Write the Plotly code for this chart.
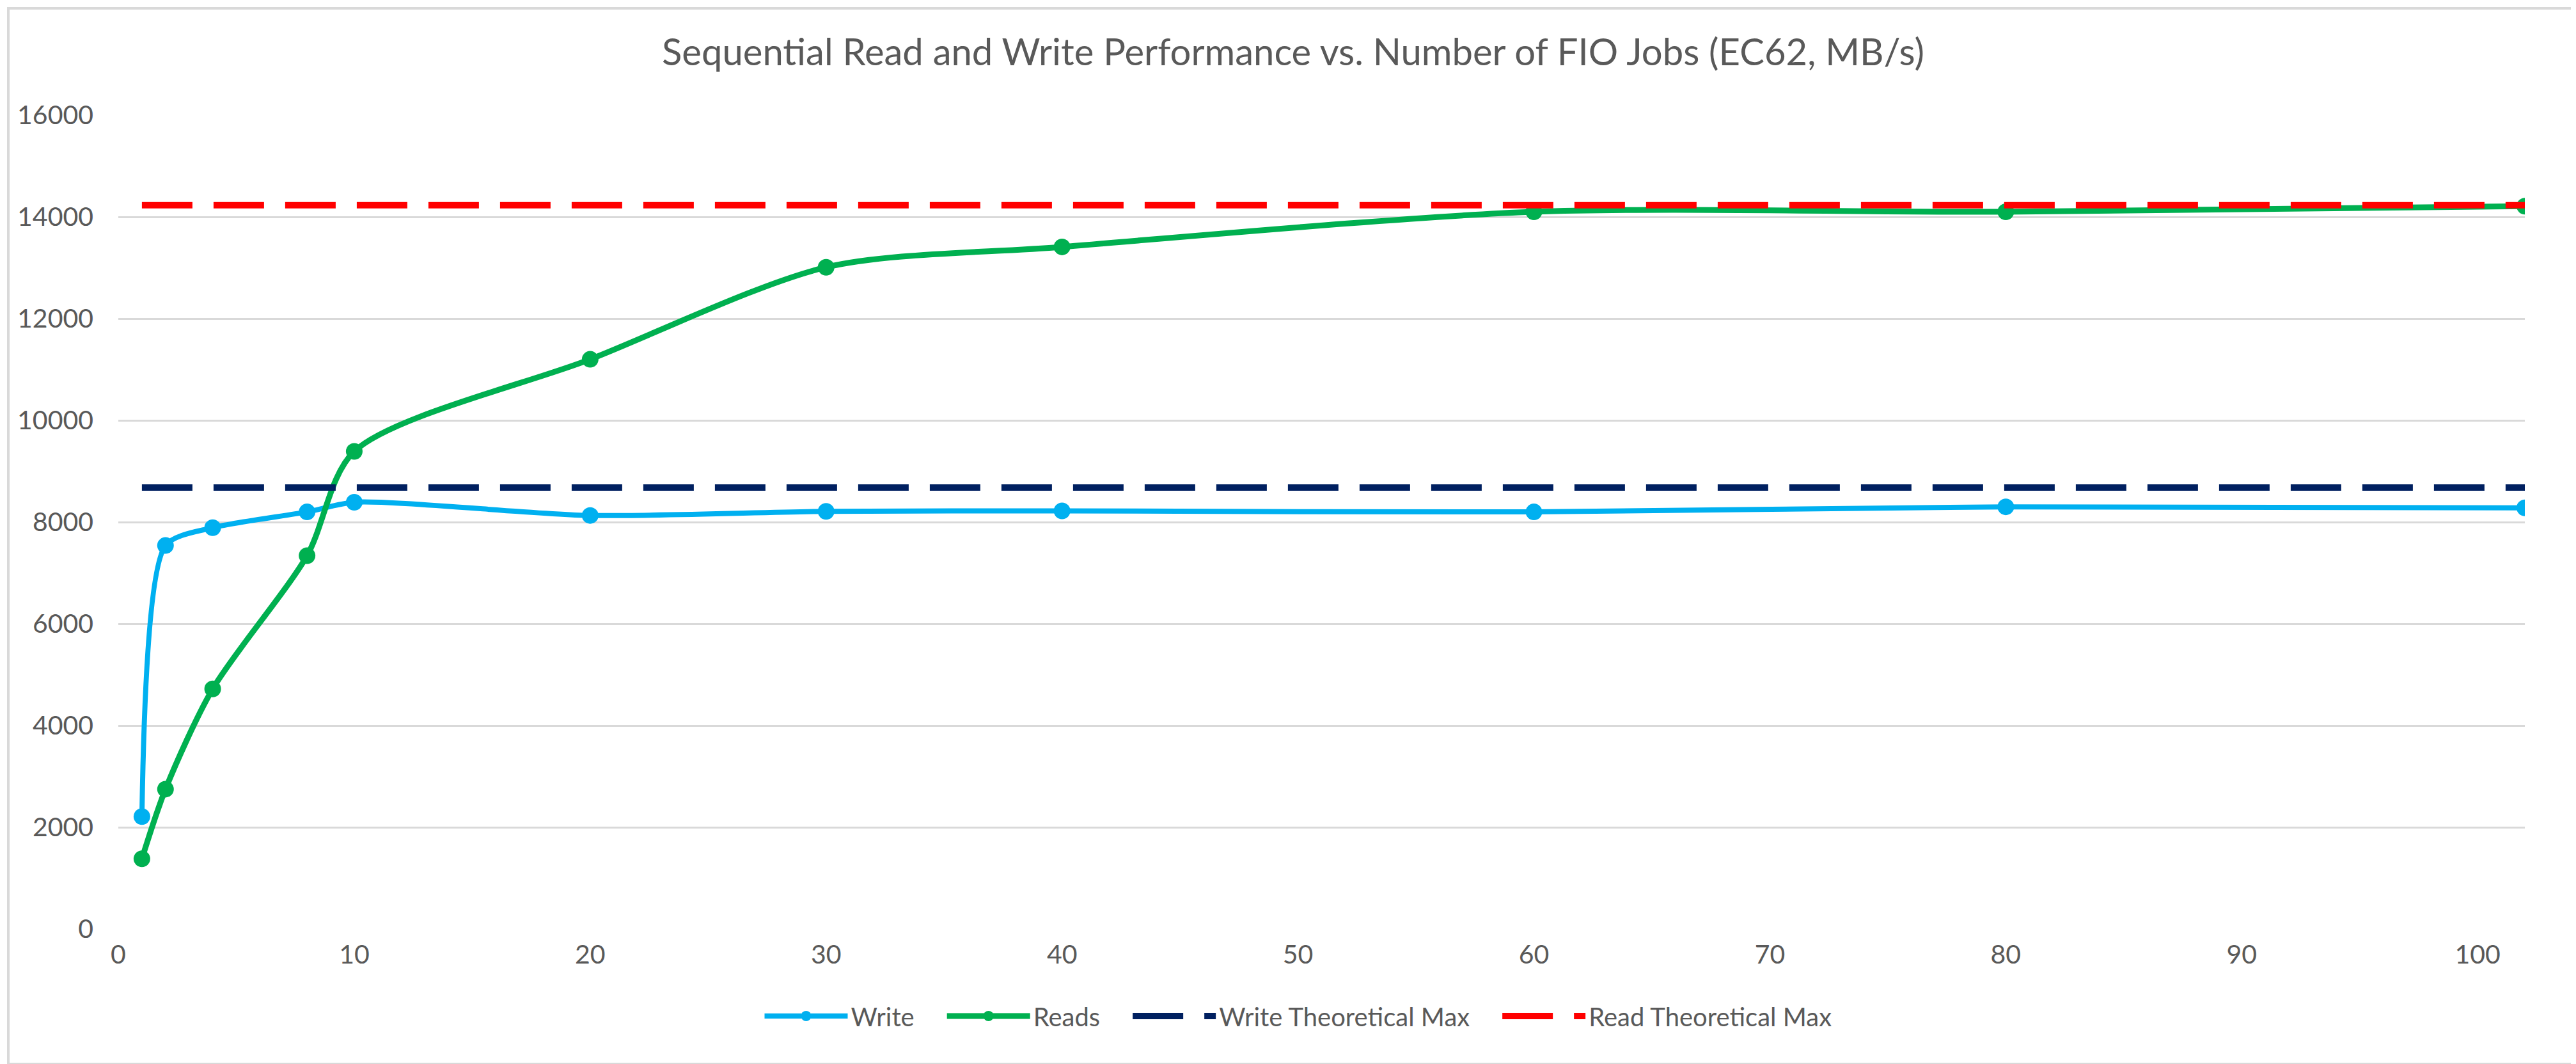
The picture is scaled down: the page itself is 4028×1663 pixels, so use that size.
import plotly.graph_objects as go

# FIO job counts (x) and throughput in MB/s
jobs = [1, 2, 4, 8, 10, 20, 30, 40, 60, 80, 102]
write_mbs = [2210, 7540, 7890, 8200, 8390, 8130, 8210, 8220, 8200, 8300, 8280]
read_mbs = [1380, 2750, 4720, 7340, 9390, 11200, 13010, 13410, 14100, 14100, 14210]
write_max = [8680, 8680, 8680, 8680, 8680, 8680, 8680, 8680, 8680, 8680, 8680]
read_max = [14230, 14230, 14230, 14230, 14230, 14230, 14230, 14230, 14230, 14230, 14230]

x_ticks = [0, 10, 20, 30, 40, 50, 60, 70, 80, 90, 100]
y_ticks = [0, 2000, 4000, 6000, 8000, 10000, 12000, 14000, 16000]

W, H = 4028, 1663
ML, MR, MT, MB = 177, 88, 172, 219
FONT = "Lato"
GREY = "#595959"
GRID = "#D9D9D9"
PAD = "\u00a0" * 4  # extra room between legend entries

fig = go.Figure()

fig.add_trace(go.Scatter(
    x=jobs, y=write_mbs, name="Write" + PAD, mode="lines+markers",
    line=dict(color="#00B0F0", width=8, shape="spline", smoothing=0.7),
    marker=dict(color="#00B0F0", size=26),
))
fig.add_trace(go.Scatter(
    x=jobs, y=read_mbs, name="Reads" + PAD, mode="lines+markers",
    line=dict(color="#00B050", width=9, shape="spline", smoothing=0.8),
    marker=dict(color="#00B050", size=26),
))
fig.add_trace(go.Scatter(
    x=jobs, y=write_max, name="Write Theoretical Max" + PAD, mode="lines",
    line=dict(color="#002060", width=10, dash="79px,33px"),
))
fig.add_trace(go.Scatter(
    x=jobs, y=read_max, name="Read Theoretical Max", mode="lines",
    line=dict(color="#FF0000", width=10, dash="79px,33px"),
))

# light grey border around the whole chart area, like the Excel chart frame
pw = W - ML - MR
ph = H - MT - MB
fig.add_shape(
    type="rect", xref="paper", yref="paper", layer="below",
    x0=(5 - ML) / pw, x1=(W - 6 - ML) / pw,
    y0=-(H - 8 - (H - MB)) / ph, y1=(H - MB - 5) / ph,
    line=dict(color=GRID, width=4),
)

fig.update_layout(
    width=W, height=H,
    margin=dict(l=ML, r=MR, t=MT, b=MB),
    paper_bgcolor="white", plot_bgcolor="white",
    font=dict(family=FONT, color=GREY, size=40),
    title=dict(
        text="Sequential Read and Write Performance vs. Number of FIO Jobs (EC62, MB/s)",
        x=0.5, xref="container", xanchor="center",
        y=1 - 74 / H, yref="container", yanchor="middle",
        font=dict(family=FONT, color=GREY, size=58),
    ),
    legend=dict(
        orientation="h", x=(2022 - ML) / pw, xanchor="center",
        y=-(1580 - (H - MB)) / ph, yanchor="middle",
        font=dict(family=FONT, color=GREY, size=40),
        itemwidth=130, bgcolor="rgba(0,0,0,0)",
    ),
    showlegend=True,
)

fig.update_xaxes(
    range=[0, 102], tickvals=x_ticks, showgrid=False, zeroline=False,
    showline=False, ticks="", ticklabelstandoff=12, automargin=False,
    tickfont=dict(family=FONT, color=GREY, size=41),
)
fig.update_yaxes(
    range=[0, 16000], tickvals=y_ticks, ticktext=[str(v) for v in y_ticks],
    showgrid=True, gridcolor=GRID,
    gridwidth=3, zeroline=False, showline=False, ticks="",
    ticklabelstandoff=38, automargin=False,
    tickfont=dict(family=FONT, color=GREY, size=41),
)

fig.write_html("out.html")
